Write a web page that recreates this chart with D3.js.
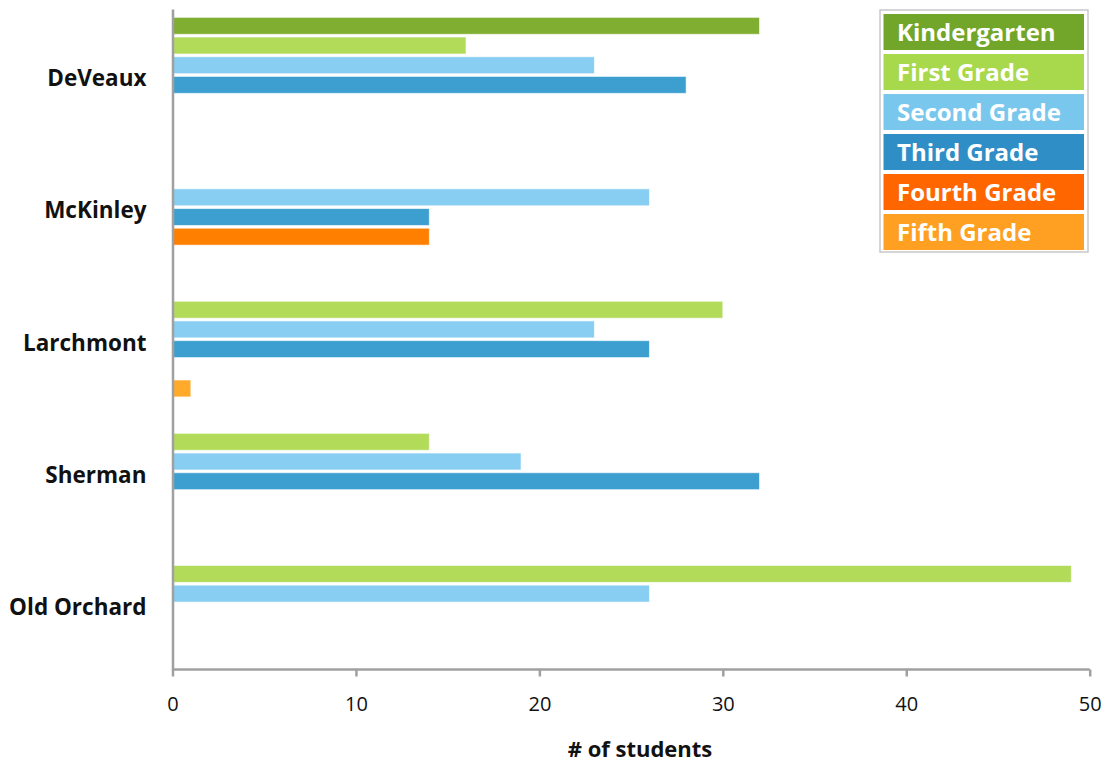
<!DOCTYPE html>
<html>
<head>
<meta charset="utf-8">
<script src="https://cdn.jsdelivr.net/npm/d3@7"></script>
<style>
  html, body { margin: 0; padding: 0; background: #fff; }
  svg { display: block; font-family: "Open Sans", "DejaVu Sans", sans-serif; }
</style>
</head>
<body>
<svg id="chart" width="1106" height="764"></svg>
<script>
// Schools, top to bottom
const schools = ["DeVeaux", "McKinley", "Larchmont", "Sherman", "Old Orchard"];
// Grade levels (series)
const grades = ["Kindergarten", "First Grade", "Second Grade", "Third Grade", "Fourth Grade", "Fifth Grade"];
// Number of students per grade, one array per grade, aligned with schools (null = no bar)
const kindergarten = [32, null, null, null, null];
const firstGrade   = [16, null, 30, 14, 49];
const secondGrade  = [23, 26, 23, 19, 26];
const thirdGrade   = [28, 14, 26, 32, null];
const fourthGrade  = [null, 14, null, null, null];
const fifthGrade   = [null, null, 1, null, null];
const xTicks = [0, 10, 20, 30, 40, 50];

const seriesValues = [kindergarten, firstGrade, secondGrade, thirdGrade, fourthGrade, fifthGrade];

// Palettes
const barColors    = ["#80AE30", "#B2DB5A", "#87CEF2", "#3C9FD0", "#FF7F00", "#FFAA2A"];
const legendColors = ["#72A62A", "#A8D84B", "#7AC7EE", "#308EC6", "#FF6600", "#FFA022"];

const svg = d3.select("#chart");

const plot = { left: 172.5, right: 1089.7, top: 9, bottom: 669.5 };

const x = d3.scaleLinear().domain([0, 50]).range([plot.left, plot.right]);
const y0 = d3.scaleBand().domain(schools).range([plot.top, plot.bottom]).padding(0);
const y1 = d3.scaleBand().domain(grades).range([0, y0.bandwidth()])
  .paddingInner(0.14).paddingOuter(0.425);
const barColor = d3.scaleOrdinal().domain(grades).range(barColors);
const legendColor = d3.scaleOrdinal().domain(grades).range(legendColors);

// Flatten into one record per bar
const records = [];
schools.forEach((s, i) => {
  grades.forEach((g, j) => {
    const v = seriesValues[j][i];
    if (v != null) records.push({ school: s, grade: g, value: v });
  });
});

// Bars
svg.append("g").selectAll("rect")
  .data(records)
  .join("rect")
  .attr("x", x(0))
  .attr("y", d => y0(d.school) + y1(d.grade))
  .attr("width", d => x(d.value) - x(0))
  .attr("height", y1.bandwidth())
  .attr("fill", d => barColor(d.grade))
  .attr("stroke", "#fff")
  .attr("stroke-opacity", 0.6)
  .attr("stroke-width", 1);

// Bottom axis
const xAxis = svg.append("g")
  .attr("transform", `translate(0,${plot.bottom})`)
  .call(d3.axisBottom(x).tickValues(xTicks).tickSize(7).tickPadding(20).tickFormat(d3.format("d")));
xAxis.select(".domain").attr("stroke", "#a0a0a0").attr("stroke-width", 2.5)
  .attr("d", `M${plot.left},0H${plot.right}`);
xAxis.selectAll(".tick line").attr("stroke", "#a0a0a0").attr("stroke-width", 2.5);
xAxis.selectAll(".tick text")
  .attr("font-size", 20)
  .attr("fill", "#111")
  .attr("font-family", "'Open Sans', sans-serif");

// Left axis line with school labels
const yAxis = svg.append("g")
  .attr("transform", `translate(${plot.left},0)`)
  .call(d3.axisLeft(y0).tickSize(0).tickPadding(26));
yAxis.select(".domain").attr("stroke", "#a0a0a0").attr("stroke-width", 2.5);
yAxis.selectAll(".tick text")
  .attr("font-size", 22.5)
  .attr("font-weight", "bold")
  .attr("fill", "#111")
  .attr("dy", "0.5em")
  .attr("font-family", "'Open Sans', sans-serif");

// Axis title
svg.append("text")
  .attr("x", 640)
  .attr("y", 757)
  .attr("text-anchor", "middle")
  .attr("font-size", 22)
  .attr("font-weight", "bold")
  .attr("fill", "#111")
  .text("# of students");

// Legend
const legend = svg.append("g");
legend.append("rect")
  .attr("x", 880).attr("y", 10)
  .attr("width", 208).attr("height", 242)
  .attr("fill", "#fff")
  .attr("stroke", "#c8c8c8")
  .attr("stroke-width", 1.5);

const items = legend.selectAll("g.item")
  .data(grades)
  .join("g")
  .attr("class", "item")
  .attr("transform", (d, i) => `translate(883.5,${14 + i * 40})`);
items.append("rect")
  .attr("width", 200.5)
  .attr("height", 36)
  .attr("fill", d => legendColor(d));
items.append("text")
  .attr("x", 13.5)
  .attr("y", 26.5)
  .attr("font-size", 24)
  .attr("font-weight", "bold")
  .attr("fill", "#fff")
  .text(d => d);
</script>
</body>
</html>
